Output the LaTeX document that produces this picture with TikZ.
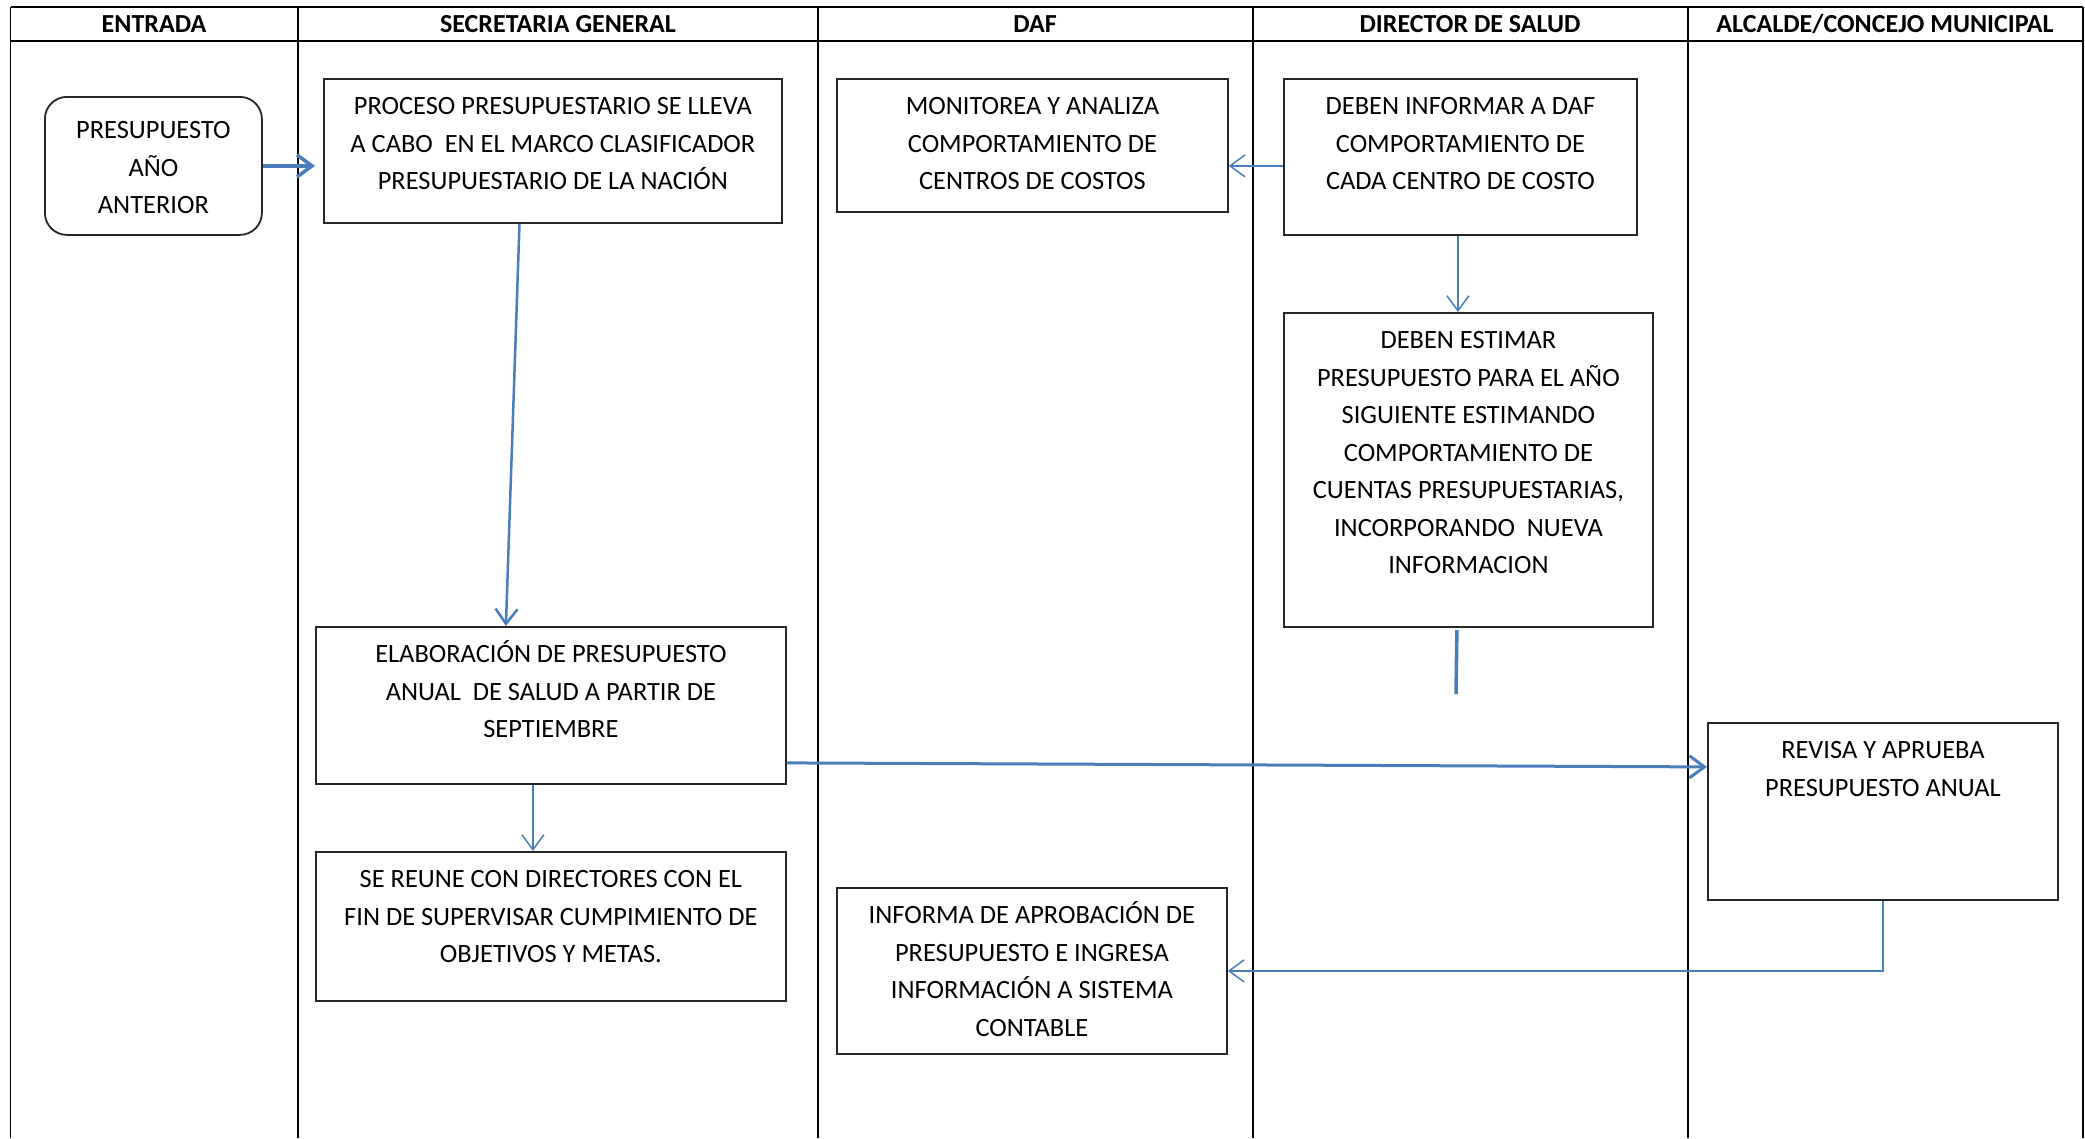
\documentclass[tikz,border=0pt]{standalone}
\usepackage{fontspec}
\setmainfont{Carlito}
\usetikzlibrary{arrows.meta}
\definecolor{connblue}{RGB}{74,126,187}
\newcommand\fl{\rule{0pt}{24pt}}
\begin{document}
\begin{tikzpicture}[x=1pt,y=-1pt,
  lane/.style={line width=1.6pt, black},
  hline/.style={line width=2.6pt, black},
  hdr/.style={font=\fontsize{26}{30}\selectfont\bfseries, inner sep=0, anchor=base},
  box/.style={draw=black!85, line width=1.8pt, inner sep=0, anchor=north west, fill=white},
  txt/.style={font=\fontsize{26.4}{37.5}\selectfont, align=center, inner sep=0, anchor=north},
  flow/.style={draw=connblue, line width=1.5pt, -{Straight Barb[length=15pt,width=22pt]}},
  flowthick/.style={flow, line width=3pt},
]
\useasboundingbox (0,0) rectangle (2085,1138);

% lanes
\foreach \x in {10.6,298,818,1253,1688,2083}
  \draw[lane] (\x,7) -- (\x,1138);
\draw[hline] (10.6,7) -- (2083,7);
\draw[hline] (10.6,41) -- (2083,41);

% headers
\node[hdr] (h1) at (154,32) {ENTRADA};
\node[hdr] (h2) at (558,32) {SECRETARIA GENERAL};
\node[hdr] (h3) at (1035,32) {DAF};
\node[hdr] (h4) at (1470,32) {DIRECTOR DE SALUD};
\node[hdr] (h5) at (1885,32) {ALCALDE/CONCEJO MUNICIPAL};

% boxes
\node[box, rounded corners=22pt, minimum width=217pt, minimum height=138pt] (ent) at (44,96) {};
\node[txt] (entT) at ([yshift=-18.5pt]ent.north) {\fl PRESUPUESTO\\AÑO\\ANTERIOR};

\node[box, minimum width=458pt, minimum height=144pt] (proc) at (323,78) {};
\node[txt] (procT) at ([yshift=-12.5pt]proc.north) {\fl PROCESO PRESUPUESTARIO SE LLEVA\\A CABO~ EN EL MARCO CLASIFICADOR\\PRESUPUESTARIO DE LA NACIÓN};

\node[box, minimum width=391pt, minimum height=133pt] (mon) at (836,78) {};
\node[txt] (monT) at ([yshift=-12.5pt]mon.north) {\fl MONITOREA Y ANALIZA\\COMPORTAMIENTO DE\\CENTROS DE COSTOS};

\node[box, minimum width=353pt, minimum height=156pt] (inf) at (1283,78) {};
\node[txt] (infT) at ([yshift=-12.5pt]inf.north) {\fl DEBEN INFORMAR A DAF\\COMPORTAMIENTO DE\\CADA CENTRO DE COSTO};

\node[box, minimum width=369pt, minimum height=314pt] (est) at (1283,312) {};
\node[txt] (estT) at ([yshift=-12.5pt]est.north) {\fl DEBEN ESTIMAR\\PRESUPUESTO PARA EL AÑO\\SIGUIENTE ESTIMANDO\\COMPORTAMIENTO DE\\CUENTAS PRESUPUESTARIAS,\\INCORPORANDO~ NUEVA\\INFORMACION};

\node[box, minimum width=470pt, minimum height=157pt] (elab) at (315,626) {};
\node[txt] (elabT) at ([yshift=-12.5pt]elab.north) {\fl ELABORACIÓN DE PRESUPUESTO\\ANUAL~ DE SALUD A PARTIR DE\\SEPTIEMBRE};

\node[box, minimum width=470pt, minimum height=149pt] (reu) at (315,851) {};
\node[txt] (reuT) at ([yshift=-12.5pt]reu.north) {\fl SE REUNE CON DIRECTORES CON EL\\FIN DE SUPERVISAR CUMPIMIENTO DE\\OBJETIVOS Y METAS.};

\node[box, minimum width=350pt, minimum height=177pt] (rev) at (1707,722) {};
\node[txt] (revT) at ([yshift=-12.5pt]rev.north) {\fl REVISA Y APRUEBA\\PRESUPUESTO ANUAL};

\node[box, minimum width=390pt, minimum height=166pt] (apr) at (836,887) {};
\node[txt] (aprT) at ([yshift=-12.5pt]apr.north) {\fl INFORMA DE APROBACIÓN DE\\PRESUPUESTO E INGRESA\\INFORMACIÓN A SISTEMA\\CONTABLE};

% connectors
\draw[flowthick, line width=3.5pt, shorten >=8pt] (ent.east) -- (ent.east -| proc.west);
\draw[flow, line width=2.5pt] ([xshift=-33.4pt]proc.south) -- ([xshift=-45pt]elab.north);
\draw[flow] ([yshift=-9pt]inf.west) -- ([yshift=-20.5pt]mon.east);
\draw[flow] ([xshift=-2.5pt]inf.south) -- ([xshift=-10.5pt]est.north);
\coordinate (estend) at (1456,694);
\draw[draw=connblue, line width=3.5pt] ([xshift=-11.5pt,yshift=-2pt]est.south) -- (estend);
\draw[flowthick] ([yshift=-57.5pt]elab.east) -- ([yshift=44.5pt]rev.west);
\draw[flow] ([xshift=-18pt]elab.south) -- ([xshift=-18pt]reu.north);
\draw[flow] (rev.south) |- (apr.east);
\end{tikzpicture}
\end{document}
